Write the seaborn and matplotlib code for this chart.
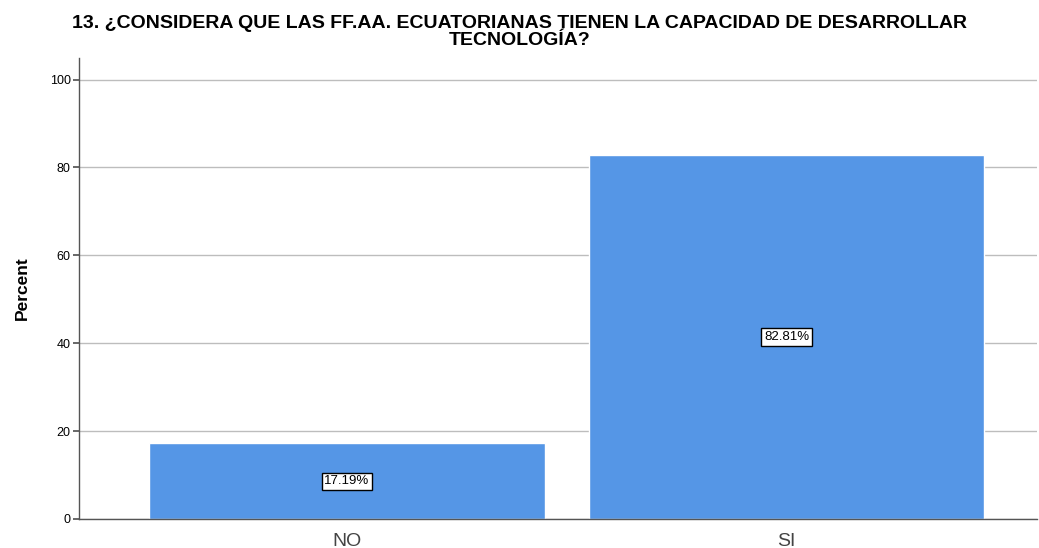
import numpy as np
import pandas as pd
import seaborn as sns
from matplotlib import pyplot as plt

# chart data
categories = ["NO", "SI"]
percents = [17.19, 82.81]
yticks = [0, 20, 40, 60, 80, 100]

sns.set_theme(style="whitegrid")
plt.rcParams['font.family'] = ['Liberation Sans', 'DejaVu Sans']

df = pd.DataFrame({"respuesta": categories, "percent": percents})

fig = plt.figure(figsize=(10.39, 5.48), dpi=100)
ax = fig.add_axes([0.076, 0.053, 0.922, 0.842])

sns.barplot(data=df, x="respuesta", y="percent", color="#5596E6", width=0.9,
            saturation=1, ax=ax, zorder=2)

for i, p in enumerate(percents):
    ax.text(i, p / 2, f"{p:.2f}%", ha="center", va="center", fontsize=9.5, color="black",
            bbox=dict(boxstyle="square,pad=0.2", facecolor="white", edgecolor="black", linewidth=1),
            zorder=3)

ax.set_ylim(0, 105)
ax.set_xlim(-0.61, 1.57)
ax.set_yticks(yticks)
ax.yaxis.grid(True, color="#bdbdbd", linewidth=1, zorder=0)
ax.xaxis.grid(False)
for s in ["top", "right"]:
    ax.spines[s].set_visible(False)
for s in ["left", "bottom"]:
    ax.spines[s].set_visible(True)
    ax.spines[s].set_color("#555555")
    ax.spines[s].set_linewidth(1)

ax.tick_params(axis="y", labelsize=9, length=4, left=True, pad=2, colors="#555555", labelcolor="black")
ax.tick_params(axis="x", labelsize=14, labelcolor="#444444", length=0, pad=10)
ax.set_xlabel("")
ax.set_ylabel("Percent", fontsize=12.5, fontweight="bold", color="black", labelpad=14)

fig.suptitle("13. ¿CONSIDERA QUE LAS FF.AA. ECUATORIANAS TIENEN LA CAPACIDAD DE DESARROLLAR\nTECNOLOGÍA?",
             fontsize=14, fontweight="bold", color="black", y=0.972, linespacing=1.0)

plt.savefig("out.png", dpi=100)
